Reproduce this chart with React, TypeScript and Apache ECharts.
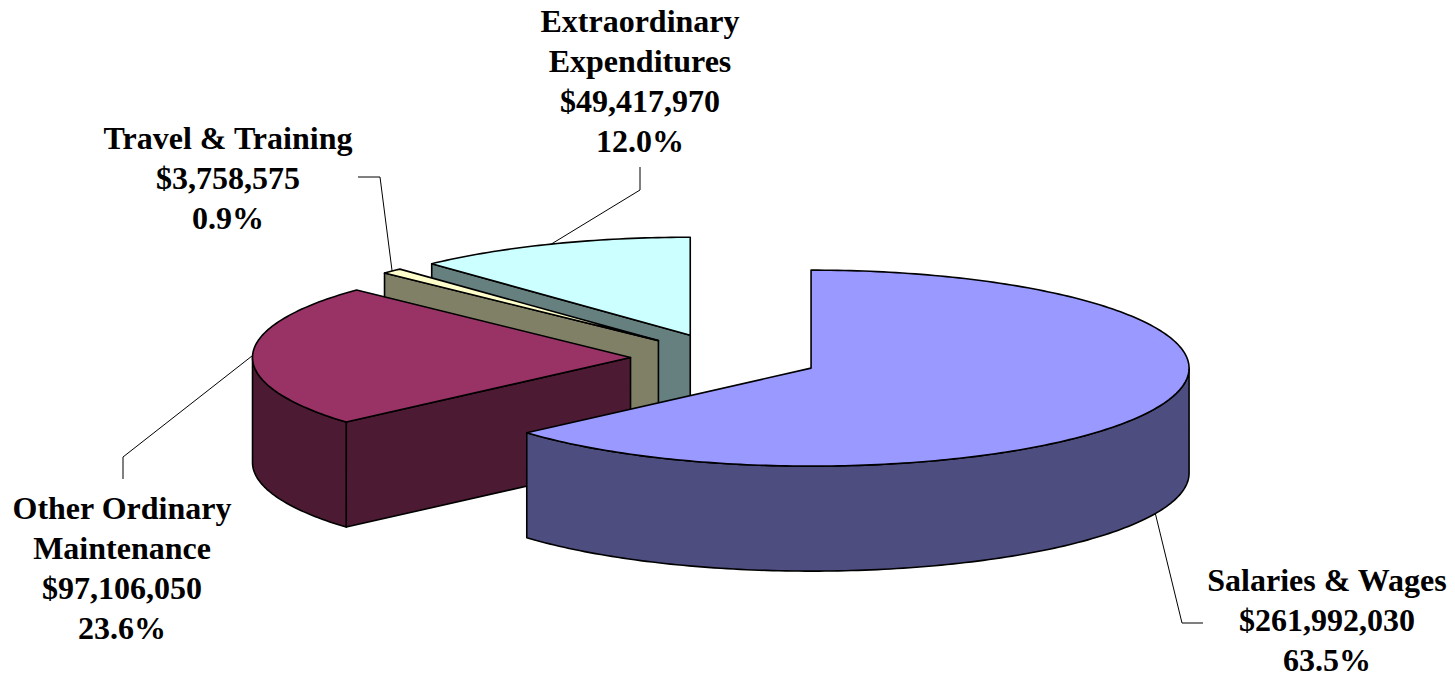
import React, { useEffect, useRef } from 'react';
import * as echarts from 'echarts';

// ---- data ----
const categories = ['Salaries & Wages', 'Other Ordinary Maintenance', 'Travel & Training', 'Extraordinary Expenditures'];
const labelNames = ['Salaries & Wages', 'Other Ordinary\nMaintenance', 'Travel & Training', 'Extraordinary\nExpenditures'];
const values = [261992030, 97106050, 3758575, 49417970];
const topColors = ['#9999FF', '#993366', '#FFFFCC', '#CCFFFF'];
const sideColors = ['#4D4D80', '#4D1A33', '#808066', '#668080'];

// ---- layout ----
const CX = 725;
const CY = 358;
const RX = 378;
const RY = 98;
const DEPTH = 105;
const EXPLODE = 0.25;
const LINE_GAP = 40;
const labelCenters = [[1327, 620], [122, 568], [228, 178], [640, 81]];
const leaderElbows = [
  [[1182, 623], [1203, 623]],
  [[123, 457], [123, 479]],
  [[380, 177], [358, 177]],
  [[640, 190], [640, 167]],
];

const total = values.reduce((s, v) => s + v, 0);

function sliceGeom(i: number) {
  let cum = 0;
  for (let k = 0; k < i; k++) cum += values[k];
  const a = (cum / total) * Math.PI * 2;
  const b = ((cum + values[i]) / total) * Math.PI * 2;
  const mid = (a + b) / 2;
  const ox = CX + EXPLODE * RX * Math.sin(mid);
  const oy = CY - EXPLODE * RY * Math.cos(mid);
  return { a, b, mid, ox, oy };
}

const renderItem = (params: any, api: any) => {
  const i = params.dataIndex;
  const v = api.value(0);
  const { a, b, mid, ox, oy } = sliceGeom(i);
  const rim = (t: number, d = 0) => [ox + RX * Math.sin(t), oy - RY * Math.cos(t) + d];
  const arc = (t1: number, t2: number, d = 0) => {
    const n = Math.max(2, Math.ceil(Math.abs(t2 - t1) / (Math.PI / 180)));
    const pts: number[][] = [];
    for (let k = 0; k <= n; k++) pts.push(rim(t1 + ((t2 - t1) * k) / n, d));
    return pts;
  };
  // depth ranking: slices further back drawn first
  const oys = values.map((_, k) => sliceGeom(k).oy);
  const rank = oys.filter((y) => y < oy).length;
  const baseZ = rank * 10;
  const edge = { stroke: '#000', lineWidth: 1.6, lineJoin: 'round' };
  const children: any[] = [];
  // radial cut faces
  if (Math.sin(a) < -1e-6) {
    const p = rim(a);
    children.push({
      type: 'polygon', z2: baseZ + 1,
      shape: { points: [[ox, oy], p, [p[0], p[1] + DEPTH], [ox, oy + DEPTH]] },
      style: { fill: sideColors[i], ...edge },
    });
  }
  if (Math.sin(b) > 1e-6) {
    const p = rim(b);
    children.push({
      type: 'polygon', z2: baseZ + 1,
      shape: { points: [[ox, oy], p, [p[0], p[1] + DEPTH], [ox, oy + DEPTH]] },
      style: { fill: sideColors[i], ...edge },
    });
  }
  // outer curved side (front half only)
  const t1 = Math.max(a, Math.PI / 2);
  const t2 = Math.min(b, (Math.PI * 3) / 2);
  if (t2 > t1) {
    const pts = arc(t1, t2).concat(arc(t2, t1, DEPTH));
    children.push({
      type: 'polygon', z2: baseZ + 2,
      shape: { points: pts },
      style: { fill: sideColors[i], ...edge },
    });
  }
  // top face
  children.push({
    type: 'polygon', z2: baseZ + 3,
    shape: { points: [[ox, oy]].concat(arc(a, b)) },
    style: { fill: topColors[i], ...edge },
  });
  // leader line
  const front = Math.cos(mid) < 0;
  const start = rim(mid, front ? DEPTH : 0);
  children.push({
    type: 'polyline', z2: 100,
    shape: { points: [start].concat(leaderElbows[i]) },
    style: { stroke: '#000', lineWidth: 1, fill: null },
  });
  // label lines
  const pct = ((v / total) * 100).toFixed(1) + '%';
  const money = '$' + Number(v).toLocaleString('en-US');
  const lines = `${labelNames[i]}\n${money}\n${pct}`.split('\n');
  lines.forEach((line, k) => {
    children.push({
      type: 'text', z2: 101,
      style: {
        text: line,
        x: labelCenters[i][0],
        y: labelCenters[i][1] + (k - (lines.length - 1) / 2) * LINE_GAP,
        fill: '#000',
        fontSize: 32,
        fontWeight: 'bold',
        fontFamily: '"Liberation Serif", "Times New Roman", serif',
        align: 'center',
        verticalAlign: 'middle',
        lineHeight: 28,
      },
    });
  });
  return { type: 'group', children };
};

export default function App() {
  const ref = useRef<HTMLDivElement>(null);
  useEffect(() => {
    document.body.style.margin = '0';
    if (!ref.current) return;
    const chart = echarts.init(ref.current, undefined, { renderer: 'svg' });
    chart.setOption({
      animation: false,
      backgroundColor: '#ffffff',
      series: [
        {
          type: 'custom',
          coordinateSystem: 'none',
          renderItem,
          data: values.map((v, i) => ({ name: categories[i], value: [v] })),
        },
      ],
    });
    return () => chart.dispose();
  }, []);
  return <div ref={ref} style={{ width: 1455, height: 678 }} />;
}
